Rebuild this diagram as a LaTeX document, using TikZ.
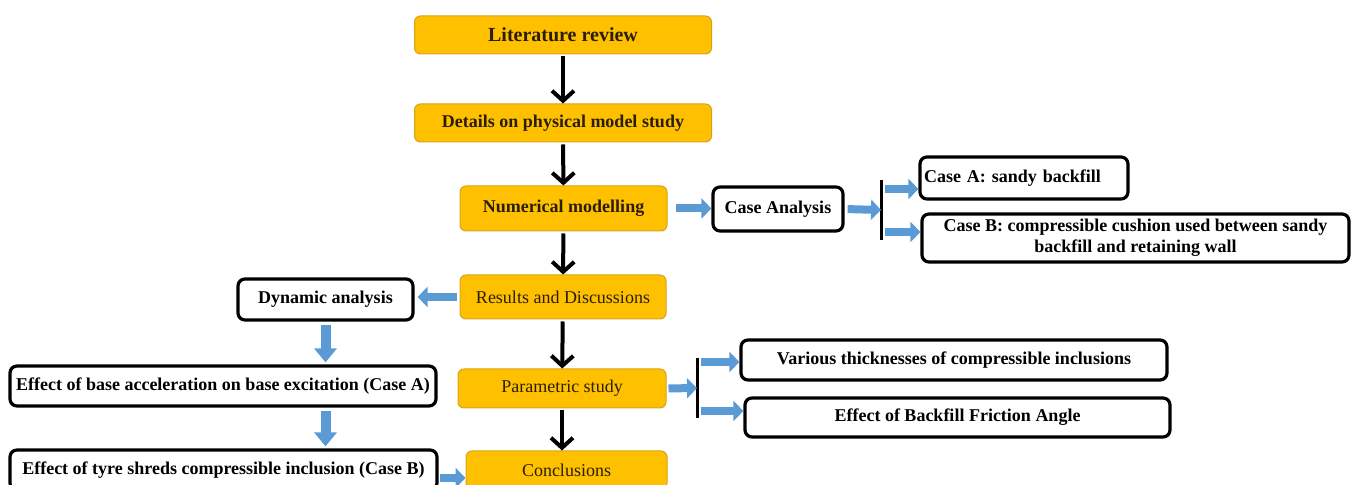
\documentclass[tikz,border=0pt]{standalone}
\usepackage{fontspec}
\setmainfont{Liberation Serif}
\definecolor{fcgold}{HTML}{FFC000}
\definecolor{fcgoldline}{HTML}{D6A31C}
\definecolor{fctext}{HTML}{2B1E05}
\definecolor{fcblue}{HTML}{5B9BD5}
\usetikzlibrary{positioning,arrows.meta,calc}
\tikzset{
  goldbox/.style={draw=fcgoldline, fill=fcgold, rounded corners=3pt, line width=0.5pt,
                  text=fctext, font=\fontsize{9}{10.5}\selectfont, inner sep=2pt},
  casebox/.style={draw=black, fill=white, rounded corners=3.5pt, line width=1.6pt,
                  font=\fontsize{9}{10.5}\selectfont\bfseries, inner sep=2pt},
  downarrow/.style={line width=2pt, shorten <=1pt, -{Straight Barb[length=5pt,width=11pt]}},
  bluearrow/.style={draw=fcblue, line width=4pt, -{Triangle[length=5pt,width=10pt]}},
  bluedown/.style={draw=fcblue, line width=5pt, shorten <=1.5pt, shorten >=1pt,
                   -{Triangle[length=7pt,width=11pt]}},
  splitbar/.style={line width=1.5pt},
}

\begin{document}
\begin{tikzpicture}[x=0.5pt, y=-0.5pt]
  \useasboundingbox (0,0) rectangle (1351,485);

  \node[goldbox, minimum width=148.5pt, minimum height=19pt, font=\fontsize{10}{12}\selectfont\bfseries]
    (lit) at (563,35) {Literature review};
  \node[goldbox, minimum width=148.5pt, minimum height=19pt, font=\fontsize{9}{10.5}\selectfont\bfseries]
    (det) at (563,123) {Details on physical model study};
  \node[goldbox, minimum width=103.5pt, minimum height=22.5pt, font=\fontsize{9}{10.5}\selectfont\bfseries]
    (num) at (563.5,208.5) {Numerical modelling};
  \node[goldbox, minimum width=103pt, minimum height=22pt] (res) at (563,297) {Results and Discussions};
  \node[goldbox, minimum width=104pt, minimum height=19.5pt] (par) at (562,388.5) {Parametric study};
  \node[goldbox, minimum width=100.5pt, minimum height=19pt] (con) at (566.5,470) {Conclusions};

  \node[casebox, minimum width=65pt, minimum height=22pt] (caseana) at (778,209) {Case Analysis};
  \node[casebox, text width=100pt, minimum height=21pt, align=left] (caseA) at (1024,178) {Case A: sandy backfill};
  \node[casebox, minimum width=213.5pt, minimum height=24pt, align=center] (caseB) at (1135.5,238)
    {Case B: compressible cushion used between sandy\\ backfill and retaining wall};

  \node[casebox, minimum width=87.5pt, minimum height=20.5pt] (dyn) at (325.5,299.5) {Dynamic analysis};
  \node[casebox, minimum width=213pt, minimum height=20pt] (base) at (223,386)
    {Effect of base acceleration on base excitation (Case A)};
  \node[casebox, minimum width=213.5pt, minimum height=20pt] (tyre) at (223.5,470)
    {Effect of tyre shreds compressible inclusion (Case B)};

  \node[casebox, minimum width=213pt, minimum height=20pt] (vari) at (954,360)
    {Various thicknesses of compressible inclusions};
  \node[casebox, minimum width=212.5pt, minimum height=19.5pt] (fric) at (957.5,417.5)
    {Effect of Backfill Friction Angle};

  \draw[downarrow] (lit) -- (det);
  \draw[downarrow] (det) -- (num);
  \draw[downarrow] (num) -- (res);
  \draw[downarrow] (res) -- (par);
  \draw[downarrow] (par.south) -- (par.south |- con.north);

  \coordinate (cbar) at (881,210);
  \coordinate (caIn) at (885,189);
  \coordinate (cbIn) at (885,232);
  \draw[splitbar] ([yshift=15pt]cbar) -- ([yshift=-15pt]cbar);
  \draw[bluearrow, shorten <=4pt] (num.east) -- (num.east -| caseana.west);
  \draw[bluearrow, shorten <=1.5pt] (caseana.east) -- (cbar);
  \draw[bluearrow] (caIn) -- (caIn -| caseA.west);
  \draw[bluearrow] (cbIn) -- (cbIn -| caseB.west);

  \draw[bluearrow, shorten <=1.5pt, shorten >=1.5pt] (res.west) -- (res.west -| dyn.east);
  \draw[bluedown] (dyn.south) -- (dyn.south |- base.north);
  \draw[bluedown] (base.south -| dyn.south) -- (tyre.north -| dyn.south);
  \coordinate (tyOut) at (440,478);
  \draw[bluearrow] (tyOut) -- (tyOut -| con.west);

  \coordinate (pbar) at (697,388);
  \coordinate (vaIn) at (701,362);
  \coordinate (frIn) at (701,411);
  \draw[splitbar] ([yshift=15pt]pbar) -- ([yshift=-15pt]pbar);
  \draw[bluearrow, shorten <=1pt] (par.east) -- (pbar);
  \draw[bluearrow] (vaIn) -- (vaIn -| vari.west);
  \draw[bluearrow] (frIn) -- (frIn -| fric.west);
\end{tikzpicture}
\end{document}
